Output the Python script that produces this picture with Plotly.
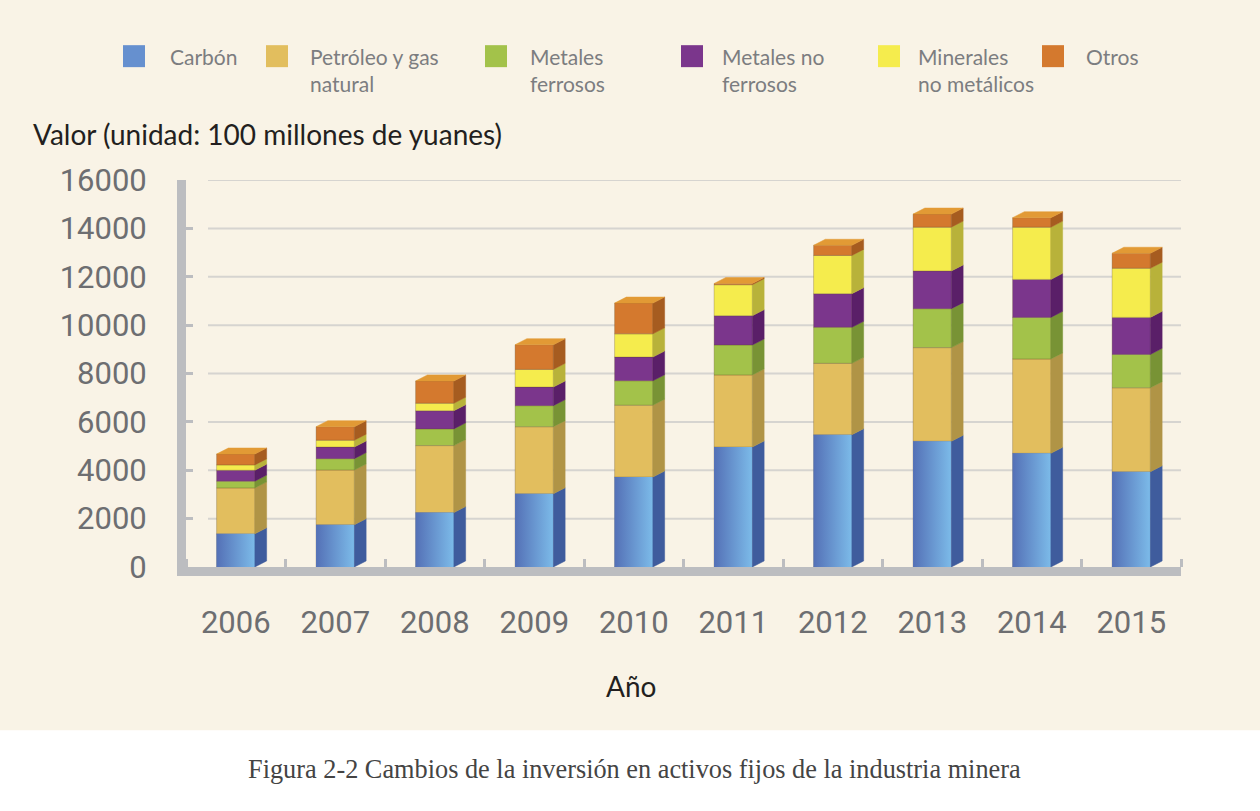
import plotly.graph_objects as go

# Inversión en activos fijos de la industria minera (unidad: 100 millones de yuanes)
YEARS = [2006, 2007, 2008, 2009, 2010, 2011, 2012, 2013, 2014, 2015]

CARBON = [1370, 1750, 2250, 3030, 3720, 4960, 5470, 5200, 4700, 3940]
PETROLEO = [1900, 2260, 2770, 2770, 2970, 2980, 2950, 3870, 3900, 3470]
FERROSOS = [280, 470, 690, 870, 1010, 1240, 1490, 1610, 1720, 1380]
NO_FERROSOS = [450, 480, 750, 770, 980, 1210, 1390, 1560, 1570, 1530]
MINERALES = [220, 280, 310, 730, 960, 1280, 1580, 1810, 2160, 2030]
OTROS = [450, 560, 920, 1020, 1270, 50, 420, 540, 390, 620]

SERIES_NAMES = ["Carbón", "Petróleo y gas natural", "Metales ferrosos",
                "Metales no ferrosos", "Minerales no metálicos", "Otros"]
LEGEND_TEXT = ["Carbón", "Petróleo y gas<br>natural", "Metales<br>ferrosos",
               "Metales no<br>ferrosos", "Minerales<br>no metálicos", "Otros"]
Y_TICKS = [0, 2000, 4000, 6000, 8000, 10000, 12000, 14000, 16000]
Y_TICK_TEXT = [str(v) for v in Y_TICKS]

SERIES = [CARBON, PETROLEO, FERROSOS, NO_FERROSOS, MINERALES, OTROS]

FRONT = ["#6690cf", "#e2be5e", "#a3c24a", "#7b368c", "#f5ec4d", "#d4792e"]
SIDE = ["#3f5c9d", "#b09446", "#789335", "#5a1f68", "#b8b23a", "#a65c20"]
TOP_COLOUR = "#e29a35"
CARBON_GRAD = [[0, "#5470b6"], [1, "#7cbbe9"]]

BG = "#f9f3e6"
AXIS_GREY = "#bcbdc0"
TICK_FONT = "#6d6e71"

BAR_W = 0.385
DEPTH_X = 0.118
DEPTH_Y = 250

# plot area in pixels, used to place the annotations and legend
L, R, T, B = 186, 1181, 180, 567.5


def px(x):
    return (x - L) / (R - L)


def py(y):
    return (B - y) / (B - T)


# stacking bases
bases = []
running = [0] * len(YEARS)
for vals in SERIES:
    bases.append(list(running))
    running = [r + v for r, v in zip(running, vals)]
totals = running

fig = go.Figure()

# front faces
for name, vals, base, col in zip(SERIES_NAMES, SERIES, bases, FRONT):
    fig.add_trace(go.Bar(
        x=YEARS, y=vals, base=base, name=name, width=BAR_W,
        marker=dict(color=col, line=dict(color="rgba(90,70,40,0.35)", width=0.8)),
        showlegend=False,
    ))

# gradient on the coal front faces
for yr, v in zip(YEARS, CARBON):
    x0, x1 = yr - BAR_W / 2, yr + BAR_W / 2
    fig.add_trace(go.Scatter(
        x=[x0, x1, x1, x0, x0], y=[0, 0, v, v, 0],
        mode="lines", fill="toself", line=dict(width=0),
        fillcolor=FRONT[0],
        fillgradient=dict(type="horizontal", colorscale=CARBON_GRAD),
        hoverinfo="skip", showlegend=False,
    ))

# side faces (3D look)
for vals, base, col in zip(SERIES, bases, SIDE):
    xs, ys = [], []
    for yr, v, b in zip(YEARS, vals, base):
        xr = yr + BAR_W / 2
        xs += [xr, xr + DEPTH_X, xr + DEPTH_X, xr, xr, None]
        ys += [b, b + DEPTH_Y, b + v + DEPTH_Y, b + v, b, None]
    fig.add_trace(go.Scatter(
        x=xs, y=ys, mode="lines", fill="toself", fillcolor=col,
        line=dict(width=0.5, color=col), hoverinfo="skip", showlegend=False,
    ))

# top faces
xs, ys = [], []
for yr, tot in zip(YEARS, totals):
    xl, xr = yr - BAR_W / 2, yr + BAR_W / 2
    xs += [xl, xl + DEPTH_X, xr + DEPTH_X, xr, xl, None]
    ys += [tot, tot + DEPTH_Y, tot + DEPTH_Y, tot, tot, None]
fig.add_trace(go.Scatter(
    x=xs, y=ys, mode="lines", fill="toself", fillcolor=TOP_COLOUR,
    line=dict(width=0.5, color=TOP_COLOUR), hoverinfo="skip", showlegend=False,
))

shapes = []
# white strip behind the caption
shapes.append(dict(type="rect", xref="paper", yref="paper",
                   x0=px(-10), x1=px(1270), y0=py(820), y1=py(731),
                   fillcolor="#ffffff", line=dict(width=0), layer="below"))
# gridlines (start a little right of the axis, as in the original)
for v in Y_TICKS[1:]:
    shapes.append(dict(type="line", xref="paper", yref="y",
                       x0=px(208), x1=1, y0=v, y1=v,
                       line=dict(color="#d6d4d0", width=2), layer="below"))

# hand-placed legend
legend_sq = [123, 266, 485, 681, 878, 1042]
legend_tx = [168, 308, 528, 720, 916, 1084]
annotations = []
for sq, tx, label, col in zip(legend_sq, legend_tx, LEGEND_TEXT, FRONT):
    shapes.append(dict(type="rect", xref="paper", yref="paper",
                       x0=px(sq), x1=px(sq + 22), y0=py(67), y1=py(45),
                       fillcolor=col, line=dict(width=0)))
    annotations.append(dict(
        text=label, xref="paper", yref="paper", x=px(tx), y=py(42),
        xanchor="left", yanchor="top", align="left", showarrow=False,
        font=dict(family="Lato", size=21, color="#7c7d80"),
    ))

annotations += [
    dict(text="Valor (unidad: 100 millones de yuanes)", xref="paper", yref="paper",
         x=px(31), y=py(134), xanchor="left", yanchor="middle", showarrow=False,
         font=dict(family="Lato", size=28, color="#231f20")),
    dict(text="Año", xref="paper", yref="paper", x=px(631), y=py(687),
         xanchor="center", yanchor="middle", showarrow=False,
         font=dict(family="Lato", size=28, color="#231f20")),
    dict(text="Figura 2-2 Cambios de la inversión en activos fijos de la industria minera",
         xref="paper", yref="paper", x=px(634), y=py(770),
         xanchor="center", yanchor="middle", showarrow=False,
         font=dict(family="Liberation Serif", size=26.3, color="#444444")),
]

fig.update_layout(
    width=1260, height=811,
    barmode="overlay",
    paper_bgcolor=BG, plot_bgcolor=BG,
    margin=dict(l=L, r=1260 - R, t=T, b=811 - B),
    showlegend=False,
    shapes=shapes, annotations=annotations,
    xaxis=dict(
        range=[2005.5, 2015.5], tickmode="linear", tick0=2006, dtick=1,
        ticks="", showgrid=False, zeroline=False,
        showline=True, linewidth=9, linecolor=AXIS_GREY,
        tickfont=dict(family="Roboto", size=31, color=TICK_FONT),
        ticklabelstandoff=20,
        minor=dict(ticks="inside", tickmode="linear", tick0=2005.5, dtick=1,
                   ticklen=8, tickwidth=3, tickcolor=AXIS_GREY, showgrid=False),
    ),
    yaxis=dict(
        range=[0, 16000], tickmode="array", tickvals=Y_TICKS, ticktext=Y_TICK_TEXT,
        ticks="inside", ticklen=7, tickwidth=3, tickcolor=AXIS_GREY,
        showgrid=False, zeroline=False,
        showline=True, linewidth=9, linecolor=AXIS_GREY,
        tickfont=dict(family="Roboto", size=31, color=TICK_FONT),
        ticklabelstandoff=24,
    ),
)

# drop the browser's default 8px body margin so the figure sits at 0,0
fig.write_html("out.html", config={"displayModeBar": False},
               post_script="document.body.style.margin = '0';")
